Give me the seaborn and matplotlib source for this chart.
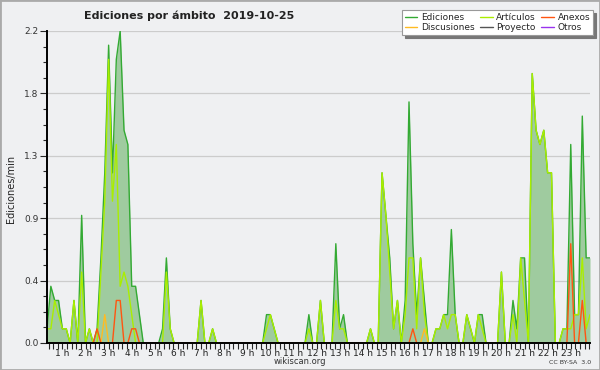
import numpy as np
import pandas as pd
import matplotlib
matplotlib.use("Agg")
import matplotlib.pyplot as plt
from matplotlib.lines import Line2D
from matplotlib.patches import Rectangle
import seaborn as sns

# ediciones/min, un valor cada 10 minutos desde las 00:20
ediciones = [0.1, 0.4, 0.3, 0.3, 0.1, 0.1, 0.0, 0.3, 0.0, 0.9,
             0.0, 0.1, 0.0, 0.1, 0.6, 1.2, 2.1, 1.2, 2.0, 2.2,
             1.5, 1.4, 0.4, 0.4, 0.2, 0.0, 0.0, 0.0, 0.0, 0.0,
             0.1, 0.6, 0.1, 0.0, 0.0, 0.0, 0.0, 0.0, 0.0, 0.0,
             0.3, 0.0, 0.0, 0.1, 0.0, 0.0, 0.0, 0.0, 0.0, 0.0,
             0.0, 0.0, 0.0, 0.0, 0.0, 0.0, 0.0, 0.2, 0.2, 0.1,
             0.0, 0.0, 0.0, 0.0, 0.0, 0.0, 0.0, 0.0, 0.2, 0.0,
             0.0, 0.3, 0.0, 0.0, 0.0, 0.7, 0.1, 0.2, 0.0, 0.0,
             0.0, 0.0, 0.0, 0.0, 0.1, 0.0, 0.0, 1.2, 0.9, 0.6,
             0.1, 0.3, 0.0, 0.3, 1.7, 0.7, 0.2, 0.6, 0.3, 0.0,
             0.0, 0.1, 0.1, 0.2, 0.2, 0.8, 0.2, 0.0, 0.0, 0.2,
             0.1, 0.0, 0.2, 0.2, 0.0, 0.0, 0.0, 0.0, 0.5, 0.0,
             0.0, 0.3, 0.1, 0.6, 0.6, 0.0, 1.9, 1.5, 1.4, 1.5,
             1.2, 1.2, 0.0, 0.0, 0.1, 0.1, 1.4, 0.2, 0.2, 1.6,
             0.6, 0.6]

articulos = [0.1, 0.1, 0.3, 0.2, 0.1, 0.1, 0.0, 0.3, 0.0, 0.5,
             0.0, 0.1, 0.0, 0.0, 0.5, 1.0, 2.0, 1.0, 1.4, 0.4,
             0.5, 0.4, 0.2, 0.0, 0.0, 0.0, 0.0, 0.0, 0.0, 0.0,
             0.0, 0.5, 0.1, 0.0, 0.0, 0.0, 0.0, 0.0, 0.0, 0.0,
             0.3, 0.0, 0.0, 0.1, 0.0, 0.0, 0.0, 0.0, 0.0, 0.0,
             0.0, 0.0, 0.0, 0.0, 0.0, 0.0, 0.0, 0.1, 0.2, 0.1,
             0.0, 0.0, 0.0, 0.0, 0.0, 0.0, 0.0, 0.0, 0.1, 0.0,
             0.0, 0.3, 0.0, 0.0, 0.0, 0.3, 0.1, 0.1, 0.0, 0.0,
             0.0, 0.0, 0.0, 0.0, 0.1, 0.0, 0.0, 1.2, 0.9, 0.5,
             0.1, 0.3, 0.0, 0.2, 0.6, 0.6, 0.1, 0.6, 0.2, 0.0,
             0.0, 0.1, 0.1, 0.2, 0.1, 0.2, 0.2, 0.0, 0.0, 0.2,
             0.1, 0.0, 0.2, 0.1, 0.0, 0.0, 0.0, 0.0, 0.5, 0.0,
             0.0, 0.2, 0.0, 0.6, 0.3, 0.0, 1.9, 1.5, 1.4, 1.5,
             1.2, 1.2, 0.0, 0.0, 0.1, 0.1, 0.1, 0.2, 0.2, 0.6,
             0.1, 0.2]

anexos = [0.0, 0.0, 0.0, 0.0, 0.0, 0.0, 0.0, 0.0, 0.0, 0.0,
          0.0, 0.0, 0.0, 0.1, 0.0, 0.0, 0.0, 0.0, 0.3, 0.3,
          0.0, 0.0, 0.1, 0.1, 0.0, 0.0, 0.0, 0.0, 0.0, 0.0,
          0.0, 0.0, 0.0, 0.0, 0.0, 0.0, 0.0, 0.0, 0.0, 0.0,
          0.0, 0.0, 0.0, 0.0, 0.0, 0.0, 0.0, 0.0, 0.0, 0.0,
          0.0, 0.0, 0.0, 0.0, 0.0, 0.0, 0.0, 0.0, 0.0, 0.0,
          0.0, 0.0, 0.0, 0.0, 0.0, 0.0, 0.0, 0.0, 0.0, 0.0,
          0.0, 0.0, 0.0, 0.0, 0.0, 0.0, 0.0, 0.0, 0.0, 0.0,
          0.0, 0.0, 0.0, 0.0, 0.0, 0.0, 0.0, 0.0, 0.0, 0.0,
          0.0, 0.0, 0.0, 0.0, 0.0, 0.1, 0.0, 0.0, 0.0, 0.0,
          0.0, 0.0, 0.0, 0.0, 0.0, 0.0, 0.0, 0.0, 0.0, 0.0,
          0.0, 0.0, 0.0, 0.0, 0.0, 0.0, 0.0, 0.0, 0.0, 0.0,
          0.0, 0.0, 0.0, 0.0, 0.0, 0.0, 0.0, 0.0, 0.0, 0.0,
          0.0, 0.0, 0.0, 0.0, 0.0, 0.0, 0.7, 0.0, 0.0, 0.3,
          0.0, 0.0]

discusiones = [0.0, 0.0, 0.0, 0.0, 0.0, 0.0, 0.0, 0.0, 0.0, 0.0,
               0.0, 0.0, 0.0, 0.0, 0.0, 0.2, 0.0, 0.0, 0.0, 0.0,
               0.0, 0.0, 0.0, 0.0, 0.0, 0.0, 0.0, 0.0, 0.0, 0.0,
               0.0, 0.0, 0.0, 0.0, 0.0, 0.0, 0.0, 0.0, 0.0, 0.0,
               0.0, 0.0, 0.0, 0.0, 0.0, 0.0, 0.0, 0.0, 0.0, 0.0,
               0.0, 0.0, 0.0, 0.0, 0.0, 0.0, 0.0, 0.0, 0.0, 0.0,
               0.0, 0.0, 0.0, 0.0, 0.0, 0.0, 0.0, 0.0, 0.0, 0.0,
               0.0, 0.0, 0.0, 0.0, 0.0, 0.0, 0.0, 0.0, 0.0, 0.0,
               0.0, 0.0, 0.0, 0.0, 0.0, 0.0, 0.0, 0.0, 0.0, 0.0,
               0.0, 0.0, 0.0, 0.0, 0.0, 0.0, 0.0, 0.0, 0.1, 0.0,
               0.0, 0.0, 0.0, 0.0, 0.0, 0.0, 0.0, 0.0, 0.0, 0.0,
               0.0, 0.0, 0.0, 0.0, 0.0, 0.0, 0.0, 0.0, 0.0, 0.0,
               0.0, 0.0, 0.0, 0.0, 0.0, 0.0, 0.0, 0.0, 0.0, 0.0,
               0.0, 0.0, 0.0, 0.0, 0.0, 0.0, 0.0, 0.0, 0.0, 0.0,
               0.0, 0.0]

series = ["Ediciones", "Artículos", "Discusiones", "Anexos"]
colores = {"Ediciones": "#33aa33", "Artículos": "#aaee00", "Discusiones": "#ffbb22",
           "Anexos": "#ff5511", "Proyecto": "#555555", "Otros": "#9933ee"}
legend_order = ["Ediciones", "Discusiones", "Artículos", "Proyecto", "Anexos", "Otros"]

horas = (20 + 10 * np.arange(len(ediciones))) / 60.0

df = pd.DataFrame({"hora": np.tile(horas, 4),
                   "valor": ediciones + articulos + discusiones + anexos,
                   "serie": np.repeat(series, len(horas))})

sns.set_style("ticks")
plt.rcParams["font.family"] = ["DejaVu Sans"]
bg = "#eff0f2"

fig = plt.figure(figsize=(6, 3.7), dpi=100, facecolor=bg)
ax = fig.add_axes([47 / 600, 27 / 370, 543 / 600, 312 / 370])
ax.set_facecolor(bg)

ax.fill_between(horas, ediciones, color="#9fcb9f", lw=0, zorder=1)
sns.lineplot(data=df, x="hora", y="valor", hue="serie", hue_order=series,
             palette=colores, ax=ax, lw=1, legend=False, sort=False, zorder=2)

ax.set_xlim(horas[0], horas[-1])
ax.set_ylim(0, 2.2)
yt = [0, 0.44, 0.88, 1.32, 1.76, 2.2]
ax.set_yticks(yt)
ax.set_yticklabels([f"{v:.1f}" for v in yt])
ax.set_yticks(np.arange(0, 2.21, 0.11), minor=True)
ax.set_xticks(range(1, 24))
ax.set_xticklabels([f"{h} h" for h in range(1, 24)])
ax.set_xticks(np.arange(0.4, 23.9, 0.2), minor=True)
ax.grid(axis="y", color="#cccccc", lw=0.9)
ax.set_axisbelow(True)
for s in ["top", "right"]:
    ax.spines[s].set_visible(False)
for s in ["left", "bottom"]:
    ax.spines[s].set_color("black")
    ax.spines[s].set_linewidth(1.4)
    ax.spines[s].set_zorder(6)
ax.tick_params(axis="y", which="major", length=5, width=0.8, labelsize=6.5, labelcolor="#333333", pad=1)
ax.tick_params(axis="y", which="minor", length=3, width=0.8)
ax.tick_params(axis="x", which="both", length=4, width=0.8, labelsize=6.5, labelcolor="#222222", pad=0)
ax.set_xlabel("")
ax.set_ylabel("")

fig.text(0.315, 0.958, "Ediciones por ámbito  2019-10-25", ha="center", va="center",
         fontsize=8, fontweight="bold", color="#222222")
fig.text(0.018, 0.49, "Ediciones/min", rotation=90, ha="center", va="center",
         fontsize=7, color="#222222")
fig.text(0.5, 0.024, "wikiscan.org", ha="center", va="center", fontsize=6, color="#333333")
fig.text(0.985, 0.02, "CC BY-SA  3.0", ha="right", va="center", fontsize=4.5, color="#333333")

handles = [Line2D([], [], color=colores[s], lw=1) for s in legend_order]
leg = fig.legend(handles, legend_order, ncol=3, loc="upper right",
                 bbox_to_anchor=(0.988, 0.972), fontsize=6.5, frameon=True,
                 fancybox=False, shadow={"color": "#777777", "alpha": 1},
                 handlelength=1.4, handletextpad=0.4, columnspacing=0.6,
                 labelspacing=0.15, borderpad=0.3, borderaxespad=0)
leg.get_frame().set_edgecolor("#999999")
leg.get_frame().set_linewidth(0.8)
leg.get_frame().set_facecolor("white")

fig.patches.append(Rectangle((0, 0), 1, 1, transform=fig.transFigure, fill=False,
                             edgecolor="#aaaaaa", lw=2))

fig.savefig("out.png", dpi=100, facecolor=bg)
